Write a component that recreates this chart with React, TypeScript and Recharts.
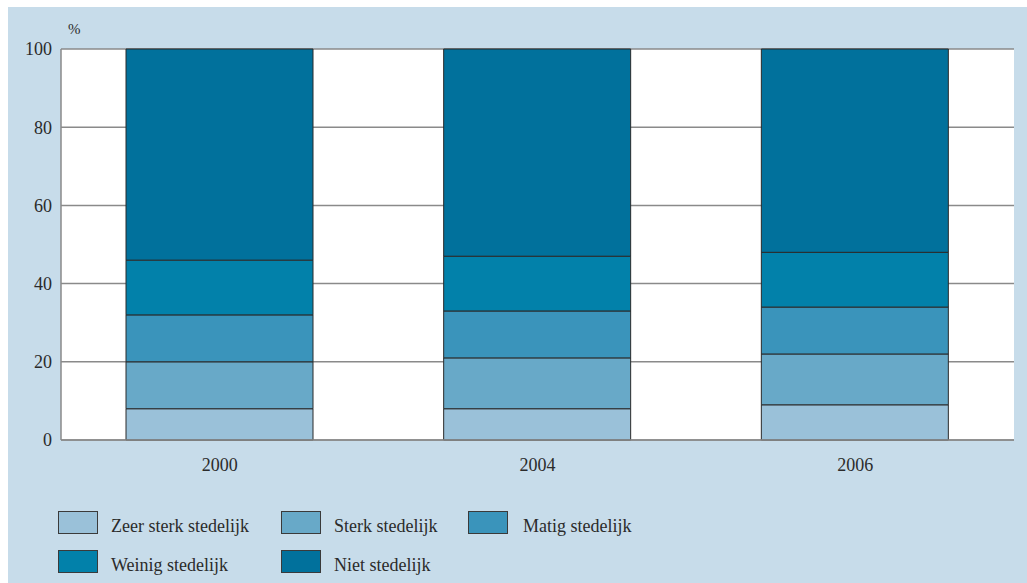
import { BarChart, Bar, XAxis, YAxis, CartesianGrid, Legend } from "recharts";

const years = ["2000", "2004", "2006"];
const zeerSterk = [8, 8, 9];
const sterk = [12, 13, 13];
const matig = [12, 12, 12];
const weinig = [14, 14, 14];
const niet = [54, 53, 52];
const yTicks = [0, 20, 40, 60, 80, 100];

const seriesNames = [
  "Zeer sterk stedelijk",
  "Sterk stedelijk",
  "Matig stedelijk",
  "Weinig stedelijk",
  "Niet stedelijk",
];
const seriesKeys = ["zeerSterk", "sterk", "matig", "weinig", "niet"];
const seriesColors = ["#9ac1d9", "#68a9c8", "#3a94bb", "#0281aa", "#01719c"];

const data = years.map((year, i) => ({
  year,
  zeerSterk: zeerSterk[i],
  sterk: sterk[i],
  matig: matig[i],
  weinig: weinig[i],
  niet: niet[i],
}));

const FONT = "'Liberation Serif', 'DejaVu Serif', serif";
const TEXT = "#2b2b2b";

// legend is laid out in two rows, three columns
const legendCols = [50, 273, 460];
const legendRows = [7, 46];

function CustomLegend() {
  return (
    <div style={{ position: "relative", width: 1019, height: 79 }}>
      {seriesNames.map((name, i) => (
        <div
          key={name}
          style={{
            position: "absolute",
            left: legendCols[i % 3],
            top: legendRows[Math.floor(i / 3)],
            display: "flex",
            alignItems: "center",
          }}
        >
          <div
            style={{
              width: 38,
              height: 21,
              background: seriesColors[i],
              border: "1px solid #3a3a3a",
              marginRight: i === 2 ? 15 : 13,
            }}
          />
          <span
            style={{
              fontFamily: FONT,
              fontSize: 18,
              color: TEXT,
              lineHeight: "22px",
              position: "relative",
              top: 3,
            }}
          >
            {name}
          </span>
        </div>
      ))}
    </div>
  );
}

export default function App() {
  return (
    <div
      style={{
        position: "absolute",
        left: 8,
        top: 7,
        width: 1019,
        height: 576,
        background: "#c7dcea",
      }}
    >
      <BarChart
        width={1019}
        height={576}
        data={data}
        margin={{ top: 42, right: 13, bottom: 34, left: 0 }}
        barCategoryGap={0}
      >
        <CartesianGrid
          vertical={false}
          stroke="#8a8a8a"
          strokeWidth={1.5}
          fill="#ffffff"
          fillOpacity={1}
        />
        <XAxis
          dataKey="year"
          tickLine={false}
          axisLine={{ stroke: "#8a8a8a", strokeWidth: 1.5 }}
          tickMargin={12}
          tick={{ fill: TEXT, fontFamily: FONT, fontSize: 18 }}
        />
        <YAxis
          width={53}
          domain={[0, 100]}
          ticks={yTicks}
          tickLine={false}
          tickMargin={3}
          axisLine={{ stroke: "#8a8a8a", strokeWidth: 1.5 }}
          tick={{ fill: TEXT, fontFamily: FONT, fontSize: 18 }}
          label={({ viewBox }: any) => (
            <text
              x={viewBox.x + viewBox.width + 7}
              y={viewBox.y - 15}
              fill={TEXT}
              fontFamily={FONT}
              fontSize={15}
            >
              %
            </text>
          )}
        />
        <YAxis
          yAxisId="right"
          orientation="right"
          width={0}
          domain={[0, 100]}
          tick={false}
          tickLine={false}
          axisLine={{ stroke: "#8a8a8a", strokeWidth: 1.5 }}
        />
        <Legend
          content={() => <CustomLegend />}
          wrapperStyle={{ left: 0, top: 497, width: 1019, height: 79 }}
        />
        {seriesKeys.map((key, i) => (
          <Bar
            key={key}
            dataKey={key}
            name={seriesNames[i]}
            stackId="a"
            fill={seriesColors[i]}
            stroke="#2a2a2a"
            strokeWidth={1}
            barSize={187}
            isAnimationActive={false}
          />
        ))}
      </BarChart>
    </div>
  );
}
